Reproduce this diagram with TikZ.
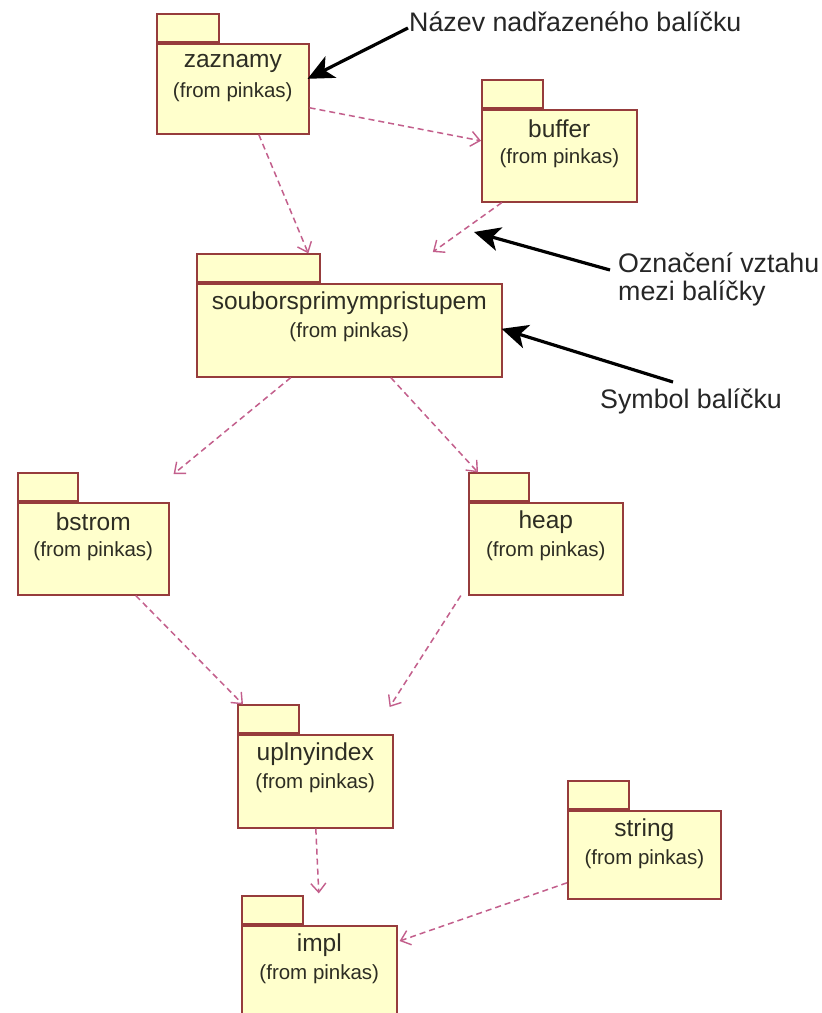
\documentclass[tikz,border=0pt]{standalone}
\usepackage{fontspec}
\setmainfont{Liberation Sans}
\usetikzlibrary{arrows.meta,calc}

\definecolor{pkgfill}{RGB}{255,255,204}
\definecolor{pkgline}{RGB}{150,60,60}
\definecolor{deplink}{RGB}{195,95,140}
\definecolor{pkgtext}{RGB}{45,45,35}

\tikzset{
  pkgbody/.style={draw=pkgline, fill=pkgfill, line width=1.6pt, inner sep=0pt, anchor=north west},
  pkgtab/.style={draw=pkgline, fill=pkgfill, line width=1.6pt, inner sep=0pt, anchor=south west, minimum height=28pt},
  pkgname/.style={font=\fontsize{24.5}{28}\selectfont, text=pkgtext, inner sep=0pt},
  pkgfrom/.style={font=\fontsize{20.5}{24}\selectfont, text=pkgtext, inner sep=0pt},
  dep/.style={draw=deplink, line width=1.5pt, dash pattern=on 6pt off 4pt,
    -{Straight Barb[length=9pt,width=15pt,line width=1.4pt]}},
  note/.style={font=\fontsize{26.8}{30}\selectfont, text=black!85, inner sep=0pt, anchor=west, align=left},
  pointer/.style={line width=3.2pt, -{Stealth[length=26pt,width=24pt,inset=7pt]}},
}

% package symbol: body node, tab node and the two text lines
% #1 name, #2 left x, #3 top of body, #4 body width, #5 body height, #6 tab width, #7 title
\newcommand{\umlpkg}[7]{%
  \node[pkgbody, minimum width=#4pt, minimum height=#5pt] (#1) at (#2,#3) {};
  \node[pkgtab, minimum width=#6pt] (#1-tab) at (#1.north west) {};
  \node[pkgname] (#1-name) at ([yshift=-20pt]#1.north) {#7};
  \node[pkgfrom] (#1-from) at ([yshift=-49pt]#1.north) {(from pinkas)};
}

\begin{document}
\begin{tikzpicture}[x=1pt,y=-1pt]
\useasboundingbox (0,0) rectangle (822,1013);
\fill[white] (0,0) rectangle (822,1013);

\umlpkg{zaz}{156}{43}{152}{90}{62}{zaznamy}
\umlpkg{buf}{481}{109}{155}{92}{61}{buffer}
\umlpkg{sou}{196}{283}{305}{93}{123}{souborsprimympristupem}
\umlpkg{bst}{17}{502}{151}{92}{60}{bstrom}
\umlpkg{heap}{468}{502}{154}{92}{60}{heap}
\umlpkg{upl}{237}{734}{155}{93}{61}{uplnyindex}
\umlpkg{str}{567}{810}{153}{88}{61}{string}
\umlpkg{impl}{241}{925}{155}{100}{61}{impl}

% dependencies between packages
\draw[dep] ([yshift=-19pt]zaz.east) -- ([yshift=15pt]buf.west);
\draw[dep] ([xshift=26pt]zaz.south) -- ([xshift=50pt]sou-tab.north);
\draw[dep] ([xshift=-57.5pt]buf.south) -- ([xshift=83.5pt,yshift=31pt]sou.north);
\draw[dep] ([xshift=-58.5pt]sou.south) -- ([xshift=4pt,yshift=28pt]bst.north east);
\draw[dep] ([xshift=41.5pt]sou.south) -- ([xshift=10pt]heap-tab.north west);
\draw[dep] ([xshift=42.5pt]bst.south) -- ([xshift=6pt]upl-tab.north west);
\draw[dep] ([xshift=-85pt]heap.south) -- ([xshift=-4pt,yshift=27pt]upl.north east);
\draw[dep] ([xshift=0.5pt]upl.south) -- ([xshift=46.5pt,yshift=2pt]impl-tab.north);
\draw[dep] ([yshift=-28pt]str.west) -- ([xshift=2pt,yshift=-16pt]impl.north east);

% explanatory notes
\node[note] (n-parent) at (409,22) {Název nadřazeného balíčku};
\node[note] (n-rel) at (618,263) {Označení vztahu};
\node[note] (n-rel2) at (618,293) {mezi balíčky};
\node[note] (n-sym) at (600,401) {Symbol balíčku};

\coordinate (p-parent) at (408,28);
\coordinate (p-rel) at (610,270);
\coordinate (p-sym) at (673,382);
\coordinate (t-rel) at (474,232);

\draw[pointer] (p-parent) -- ([xshift=-2pt,yshift=10pt]zaz.east);
\draw[pointer] (p-rel) -- (t-rel);
\draw[pointer] (p-sym) -- ([xshift=-1pt,yshift=1.5pt]sou.east);
\end{tikzpicture}
\end{document}
